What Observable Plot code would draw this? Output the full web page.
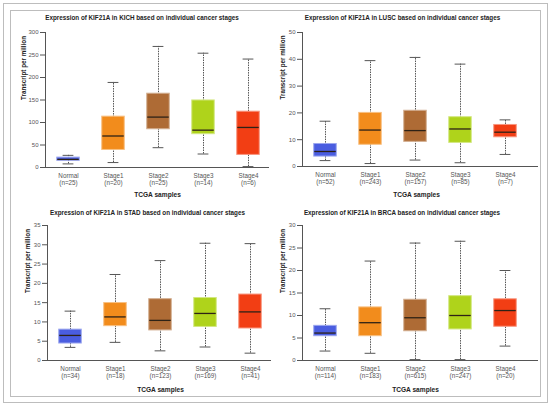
<!DOCTYPE html>
<html>
<head>
<meta charset="utf-8">
<script src="https://cdn.jsdelivr.net/npm/d3@7"></script>
<script src="https://cdn.jsdelivr.net/npm/@observablehq/plot@0.6"></script>
<style>
  body { margin: 0; background: #fff; }
  #wrap { position: relative; width: 550px; height: 404px; overflow: hidden; font-family: "Liberation Sans", Arial, sans-serif; }
  .frame { position: absolute; border: 1px solid #bdbdbd; box-sizing: border-box; }
  .q { position: absolute; width: 275px; height: 202px; }
</style>
</head>
<body>
<div id="wrap">
  <div class="frame" style="left:3px;top:3px;width:545px;height:400px;"></div>
  <div class="frame" style="left:10px;top:10px;width:531px;height:387px;"></div>
  <div class="q" id="q1" style="left:0;top:0;"></div>
  <div class="q" id="q2" style="left:275px;top:0;"></div>
  <div class="q" id="q3" style="left:0;top:202px;"></div>
  <div class="q" id="q4" style="left:275px;top:202px;"></div>
</div>
<script>
const stages = ["Normal", "Stage1", "Stage2", "Stage3", "Stage4"];
const stageColors = ["#4A5DE0", "#F28C1C", "#AE6B35", "#AFD31B", "#F23E14"];

// KICH
const kichN = [25, 20, 25, 14, 6];
const kichLow = [8, 11, 44, 30, 2];
const kichQ1 = [15, 39, 85, 74, 28];
const kichMed = [18, 70, 112, 83, 89];
const kichQ3 = [22, 113, 164, 149, 124];
const kichHigh = [27, 189, 269, 254, 241];
const kichTicks = [0, 50, 100, 150, 200, 250, 300];

// LUSC
const luscN = [52, 243, 157, 85, 7];
const luscLow = [2.2, 1.1, 2.4, 1.4, 4.5];
const luscQ1 = [3.7, 8.1, 9.2, 8.8, 10.9];
const luscMed = [5.6, 13.6, 13.4, 14.0, 12.8];
const luscQ3 = [8.4, 20.0, 20.8, 18.4, 15.5];
const luscHigh = [16.9, 39.5, 40.7, 38.2, 17.4];
const luscTicks = [0, 10, 20, 30, 40, 50];

// STAD
const stadN = [34, 18, 123, 169, 41];
const stadLow = [3.4, 4.7, 2.5, 3.5, 1.9];
const stadQ1 = [4.4, 8.9, 7.8, 8.7, 8.3];
const stadMed = [6.5, 11.3, 10.4, 12.2, 12.6];
const stadQ3 = [8.0, 14.9, 15.9, 16.2, 17.1];
const stadHigh = [12.8, 22.3, 25.9, 30.4, 30.3];
const stadTicks = [0, 5, 10, 15, 20, 25, 30, 35];

// BRCA
const brcaN = [114, 183, 615, 247, 20];
const brcaLow = [2.1, 1.6, 0.2, 0.2, 3.2];
const brcaQ1 = [5.4, 5.4, 6.5, 6.9, 7.5];
const brcaMed = [6.1, 8.4, 9.5, 10.0, 11.1];
const brcaQ3 = [7.7, 11.8, 13.5, 14.3, 13.6];
const brcaHigh = [11.5, 22.1, 26.1, 26.5, 20.0];
const brcaTicks = [0, 5, 10, 15, 20, 25, 30];

const FONT = "'Liberation Sans', Arial, sans-serif";
const lighter = c => d3.interpolateRgb(c, "#ffffff")(0.45);

function panel(o) {
  const rows = stages.map((s, i) => ({
    stage: s, n: o.n[i], low: o.low[i], q1: o.q1[i], med: o.med[i], q3: o.q3[i], high: o.high[i]
  }));
  const nMap = new Map(rows.map(r => [r.stage, r.n]));
  const step = 45;
  const a = o.first - 0.75 * step;
  const b = a + 5.5 * step;
  const bw = step * 0.5;
  const top = o.mt, bottom = 202 - o.mb;
  const fcx = (o.ml + (275 - o.mr)) / 2;
  const fcy = (top + bottom) / 2;
  return Plot.plot({
    width: 275,
    height: 202,
    marginLeft: o.ml,
    marginRight: o.mr,
    marginTop: o.mt,
    marginBottom: o.mb,
    style: { background: "transparent", fontFamily: FONT, overflow: "visible" },
    x: { domain: stages, range: [a, b], paddingInner: 0.5, paddingOuter: 0.5, round: false, axis: null },
    y: { domain: [0, o.ticks[o.ticks.length - 1]], axis: null },
    color: { domain: stages, range: stageColors },
    marks: [
      Plot.axisY({ ticks: o.ticks, tickSize: 5, tickPadding: 2, fontSize: 6, fill: "#555", stroke: "#555", label: null }),
      Plot.axisX({ tickSize: 0, tickPadding: 5, fontSize: 6.3, fill: "#555", label: null, lineHeight: 1.12,
        tickFormat: d => `${d}\n(n=${nMap.get(d)})` }),
      Plot.ruleX(rows, { x: "stage", y1: "low", y2: "high", stroke: "#555", strokeWidth: 1, strokeDasharray: "1.5,1" }),
      Plot.tickY(rows, { x: "stage", y: "low", stroke: "#555", strokeWidth: 1, insetLeft: bw * 0.26, insetRight: bw * 0.26 }),
      Plot.tickY(rows, { x: "stage", y: "high", stroke: "#555", strokeWidth: 1, insetLeft: bw * 0.26, insetRight: bw * 0.26 }),
      Plot.barY(rows, { x: "stage", y1: "q1", y2: "q3", fill: "stage", stroke: d => lighter(stageColors[stages.indexOf(d.stage)]), strokeWidth: 1 }),
      Plot.tickY(rows, { x: "stage", y: "med", stroke: "#2e2216", strokeWidth: 1.3, insetLeft: 0.5, insetRight: 0.5 }),
      Plot.frame({ anchor: "left", stroke: "#555" }),
      Plot.frame({ anchor: "bottom", stroke: "#555" }),
      Plot.text([o.title], { frameAnchor: "top", lineAnchor: "middle", dx: o.tcx - fcx, dy: o.ty - top, fontSize: 6.3, fontWeight: "bold", fill: "#222" }),
      Plot.text(["Transcript per million"], { frameAnchor: "left", lineAnchor: "middle", rotate: -90, dx: o.ylx - o.ml, dy: 0, fontSize: 6.3, fontWeight: "bold", fill: "#222" }),
      Plot.text(["TCGA samples"], { frameAnchor: "bottom", lineAnchor: "middle", dx: o.xlx - fcx, dy: o.xly - bottom, fontSize: 6.6, fontWeight: "bold", fill: "#222" })
    ]
  });
}

document.getElementById("q1").append(panel({
  title: "Expression of KIF21A in KICH based on individual cancer stages",
  n: kichN, low: kichLow, q1: kichQ1, med: kichMed, q3: kichQ3, high: kichHigh, ticks: kichTicks,
  ml: 45, mr: 7, mt: 32, mb: 35, first: 68, tcx: 141.5, ty: 17, ylx: 23, xlx: 157, xly: 194
}));
document.getElementById("q2").append(panel({
  title: "Expression of KIF21A in LUSC based on individual cancer stages",
  n: luscN, low: luscLow, q1: luscQ1, med: luscMed, q3: luscQ3, high: luscHigh, ticks: luscTicks,
  ml: 27, mr: 13, mt: 32, mb: 36, first: 50, tcx: 127, ty: 17, ylx: 7, xlx: 141, xly: 194
}));
document.getElementById("q3").append(panel({
  title: "Expression of KIF21A in STAD based on individual cancer stages",
  n: stadN, low: stadLow, q1: stadQ1, med: stadMed, q3: stadQ3, high: stadHigh, ticks: stadTicks,
  ml: 47, mr: 5, mt: 23, mb: 44, first: 70, tcx: 147, ty: 10, ylx: 27, xlx: 160, xly: 187
}));
document.getElementById("q4").append(panel({
  title: "Expression of KIF21A in BRCA based on individual cancer stages",
  n: brcaN, low: brcaLow, q1: brcaQ1, med: brcaMed, q3: brcaQ3, high: brcaHigh, ticks: brcaTicks,
  ml: 27, mr: 13, mt: 23, mb: 44, first: 50, tcx: 126.5, ty: 10, ylx: 7, xlx: 140, xly: 187
}));
</script>
</body>
</html>
